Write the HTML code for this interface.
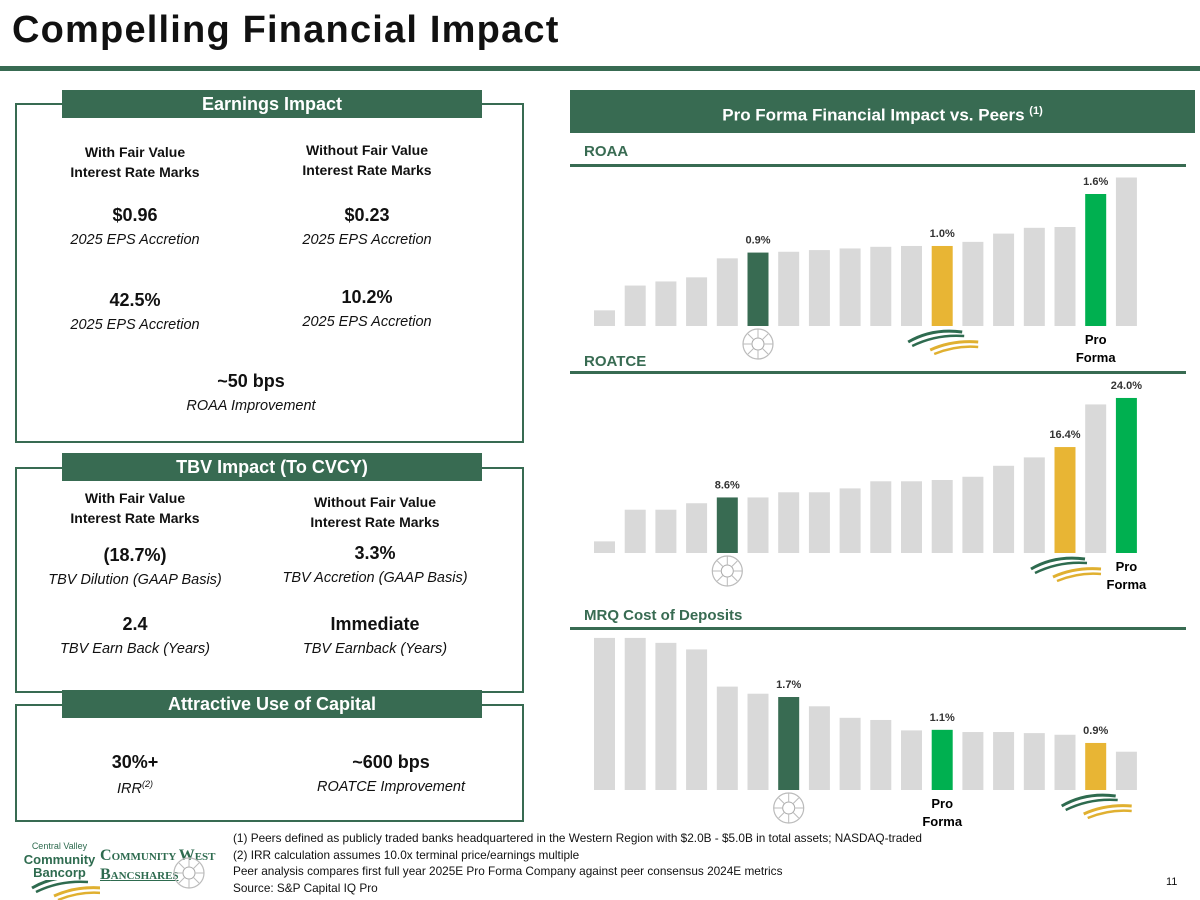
<!DOCTYPE html>
<html><head><meta charset="utf-8">
<style>
body{margin:0;width:1200px;height:900px;background:#fff;font-family:"Liberation Sans",sans-serif;position:relative;overflow:hidden;color:#111}
.abs{position:absolute}
.title{left:12px;top:9px;font-size:38px;font-weight:bold;color:#111;letter-spacing:1.2px}
.rule{left:0;top:66px;width:1200px;height:5px;background:#386b52}
.box{border:2px solid #386b52;position:absolute}
.tab{position:absolute;background:#386b52;color:#fff;font-weight:bold;font-size:18px;text-align:center;line-height:28px;height:28px}
.cell{position:absolute;text-align:center;width:230px}
.h{font-weight:bold;font-size:14px;line-height:20px}
.v{font-weight:bold;font-size:18px}
.s{font-style:italic;font-size:14.5px;margin-top:6px}
.sec{position:absolute;left:584px;font-weight:bold;color:#386b52;font-size:15px}
.sline{position:absolute;left:570px;width:616px;height:3px;background:#386b52}
.fn{left:233px;top:830px;font-size:11.8px;line-height:16.5px;color:#111}
</style></head><body>
<div class="abs title">Compelling Financial Impact</div>
<div class="abs rule"></div>

<div class="box" style="left:15px;top:103px;width:505px;height:336px"></div>
<div class="tab" style="left:62px;top:90px;width:420px">Earnings Impact</div>
<div class="cell" style="left:20px;top:142px"><div class="h">With Fair Value<br>Interest Rate Marks</div></div>
<div class="cell" style="left:252px;top:140px"><div class="h">Without Fair Value<br>Interest Rate Marks</div></div>
<div class="cell" style="left:20px;top:205px"><div class="v">$0.96</div><div class="s">2025 EPS Accretion</div></div>
<div class="cell" style="left:252px;top:205px"><div class="v">$0.23</div><div class="s">2025 EPS Accretion</div></div>
<div class="cell" style="left:20px;top:290px"><div class="v">42.5%</div><div class="s">2025 EPS Accretion</div></div>
<div class="cell" style="left:252px;top:287px"><div class="v">10.2%</div><div class="s">2025 EPS Accretion</div></div>
<div class="cell" style="left:136px;top:371px"><div class="v">~50 bps</div><div class="s">ROAA Improvement</div></div>

<div class="box" style="left:15px;top:467px;width:505px;height:222px"></div>
<div class="tab" style="left:62px;top:453px;width:420px">TBV Impact (To CVCY)</div>
<div class="cell" style="left:20px;top:488px"><div class="h">With Fair Value<br>Interest Rate Marks</div></div>
<div class="cell" style="left:260px;top:492px"><div class="h">Without Fair Value<br>Interest Rate Marks</div></div>
<div class="cell" style="left:20px;top:545px"><div class="v">(18.7%)</div><div class="s">TBV Dilution (GAAP Basis)</div></div>
<div class="cell" style="left:260px;top:543px"><div class="v">3.3%</div><div class="s">TBV Accretion (GAAP Basis)</div></div>
<div class="cell" style="left:20px;top:614px"><div class="v">2.4</div><div class="s">TBV Earn Back (Years)</div></div>
<div class="cell" style="left:260px;top:614px"><div class="v">Immediate</div><div class="s">TBV Earnback (Years)</div></div>

<div class="box" style="left:15px;top:704px;width:505px;height:114px"></div>
<div class="tab" style="left:62px;top:690px;width:420px">Attractive Use of Capital</div>
<div class="cell" style="left:20px;top:752px"><div class="v">30%+</div><div class="s">IRR<sup style="font-size:9px">(2)</sup></div></div>
<div class="cell" style="left:276px;top:752px"><div class="v">~600 bps</div><div class="s">ROATCE Improvement</div></div>

<div class="tab" style="left:570px;top:90px;width:625px;height:43px;line-height:43px;font-size:17px">Pro Forma Financial Impact vs. Peers <sup style="font-size:11px">(1)</sup></div>
<div class="sec" style="top:143px">ROAA</div>
<div class="sline" style="top:164px"></div>
<div class="sec" style="top:353px">ROATCE</div>
<div class="sline" style="top:371px"></div>
<div class="sec" style="top:607px">MRQ Cost of Deposits</div>
<div class="sline" style="top:627px"></div>

<svg class="abs" style="left:0;top:0" width="1200" height="900" id="charts">
<defs>
<g id="cwlogo"><circle r="15" fill="none" stroke="#bbb" stroke-width="1.2"/><circle r="6" fill="none" stroke="#aaa"/><path d="M0-15V-6M0 6V15M-15 0H-6M6 0H15M-10-10L-4-4M4 4L10 10M10-10L4-4M-4 4L-10 10" stroke="#bbb"/></g>
<g id="cvlogo"><path d="M-34 4Q-10-10 20-6" stroke="#2e6b4f" stroke-width="3" fill="none"/><path d="M-30 8Q-6-4 22-2" stroke="#2e6b4f" stroke-width="2.5" fill="none"/><path d="M-12 12Q10 2 36 4" stroke="#e0b030" stroke-width="3" fill="none"/><path d="M-8 16Q14 7 36 9" stroke="#e0b030" stroke-width="2.5" fill="none"/></g>
</defs>
</svg>

<div class="abs fn">(1) Peers defined as publicly traded banks headquartered in the Western Region with $2.0B - $5.0B in total assets; NASDAQ-traded<br>(2) IRR calculation assumes 10.0x terminal price/earnings multiple<br>Peer analysis compares first full year 2025E Pro Forma Company against peer consensus 2024E metrics<br>Source: S&amp;P Capital IQ Pro</div>
<div class="abs" style="left:1166px;top:876px;font-size:11px">11</div>

<div class="abs" style="left:22px;top:840px;width:75px;text-align:center;color:#2e6b4f;line-height:13px"><div style="font-size:9px">Central Valley</div><div style="font-size:13px;font-weight:bold">Community</div><div style="font-size:13px;font-weight:bold">Bancorp</div></div>
<svg class="abs" style="left:30px;top:880px" width="70" height="20"><use href="#cvlogo" x="36" y="4"/></svg>
<div class="abs" style="left:100px;top:847px;font-family:'Liberation Serif',serif;color:#2e6b4f;font-weight:bold;font-size:11px;line-height:18px"><span style="font-size:16px">C</span>OMMUNITY <span style="font-size:16px">W</span>EST<br><span style="font-size:16px;text-decoration:underline">B</span><span style="text-decoration:underline">ANCSHARES</span></div>
<svg class="abs" style="left:172px;top:856px" width="34" height="34"><use href="#cwlogo" x="17" y="17"/></svg>

<script>
const roaaVals=[0.19,0.49,0.54,0.59,0.82,0.89,0.90,0.92,0.94,0.96,0.97,0.97,1.02,1.12,1.19,1.20,1.60,1.80];
const roaaKinds=['p','p','p','p','p','cw','p','p','p','p','p','cv','p','p','p','p','pf','p'];
const roaaLabels=['','','','','','0.9%','','','','','','1.0%','','','','','1.6%',''];
const roatceVals=[1.8,6.7,6.7,7.7,8.6,8.6,9.4,9.4,10.0,11.1,11.1,11.3,11.8,13.5,14.8,16.4,23.0,24.0];
const roatceKinds=['p','p','p','p','cw','p','p','p','p','p','p','p','p','p','p','cv','p','pf'];
const roatceLabels=['','','','','8.6%','','','','','','','','','','','16.4%','','24.0%'];
const codVals=[2.78,2.78,2.69,2.57,1.89,1.76,1.70,1.53,1.32,1.28,1.09,1.10,1.06,1.06,1.04,1.01,0.86,0.70];
const codKinds=['p','p','p','p','p','p','cw','p','p','p','p','pf','p','p','p','p','cv','p'];
const codLabels=['','','','','','','1.7%','','','','','1.1%','','','','','0.9%',''];
const colors={p:'#d9d9d9',cw:'#386b52',cv:'#e8b534',pf:'#00b050'};
const svg=document.getElementById('charts');
const NS='http://www.w3.org/2000/svg';
function xPos(i){return 594+i*30.7;}
function draw(name,vals,kinds,labels,base,ppu){
  const y=v=>base-v*ppu;
  vals.forEach((v,i)=>{
    const r=document.createElementNS(NS,'rect');
    r.setAttribute('x',xPos(i));r.setAttribute('y',y(v));r.setAttribute('width',21);r.setAttribute('height',base-y(v));
    r.setAttribute('fill',colors[kinds[i]]);
    
    
    svg.appendChild(r);
    if(labels[i]){
      const t=document.createElementNS(NS,'text');
      t.setAttribute('x',xPos(i)+10.5);t.setAttribute('y',y(v)-9);t.setAttribute('text-anchor','middle');
      t.setAttribute('font-size','11');t.setAttribute('font-weight','bold');t.setAttribute('fill','#333');
      t.textContent=labels[i];
      
      
      svg.appendChild(t);
    }
    const cx=xPos(i)+10.5;
    if(kinds[i]==='cw'){const u=document.createElementNS(NS,'use');u.setAttribute('href','#cwlogo');u.setAttribute('x',cx);u.setAttribute('y',base+18);
      
      svg.appendChild(u);}
    if(kinds[i]==='cv'){const u=document.createElementNS(NS,'use');u.setAttribute('href','#cvlogo');u.setAttribute('x',cx);u.setAttribute('y',base+12);
      
      svg.appendChild(u);}
    if(kinds[i]==='pf'){[['Pro',18],['Forma',36]].forEach(([s,dy])=>{const t=document.createElementNS(NS,'text');t.setAttribute('x',cx);t.setAttribute('y',base+dy);t.setAttribute('text-anchor','middle');t.setAttribute('font-size','13');t.setAttribute('font-weight','bold');t.textContent=s;
      
      svg.appendChild(t);});}
  });
}
draw('roaa',roaaVals,roaaKinds,roaaLabels,326,82.5);
draw('roatce',roatceVals,roatceKinds,roatceLabels,553,6.46);
draw('cost-deposits',codVals,codKinds,codLabels,790,54.7);
</script>
</body></html>
